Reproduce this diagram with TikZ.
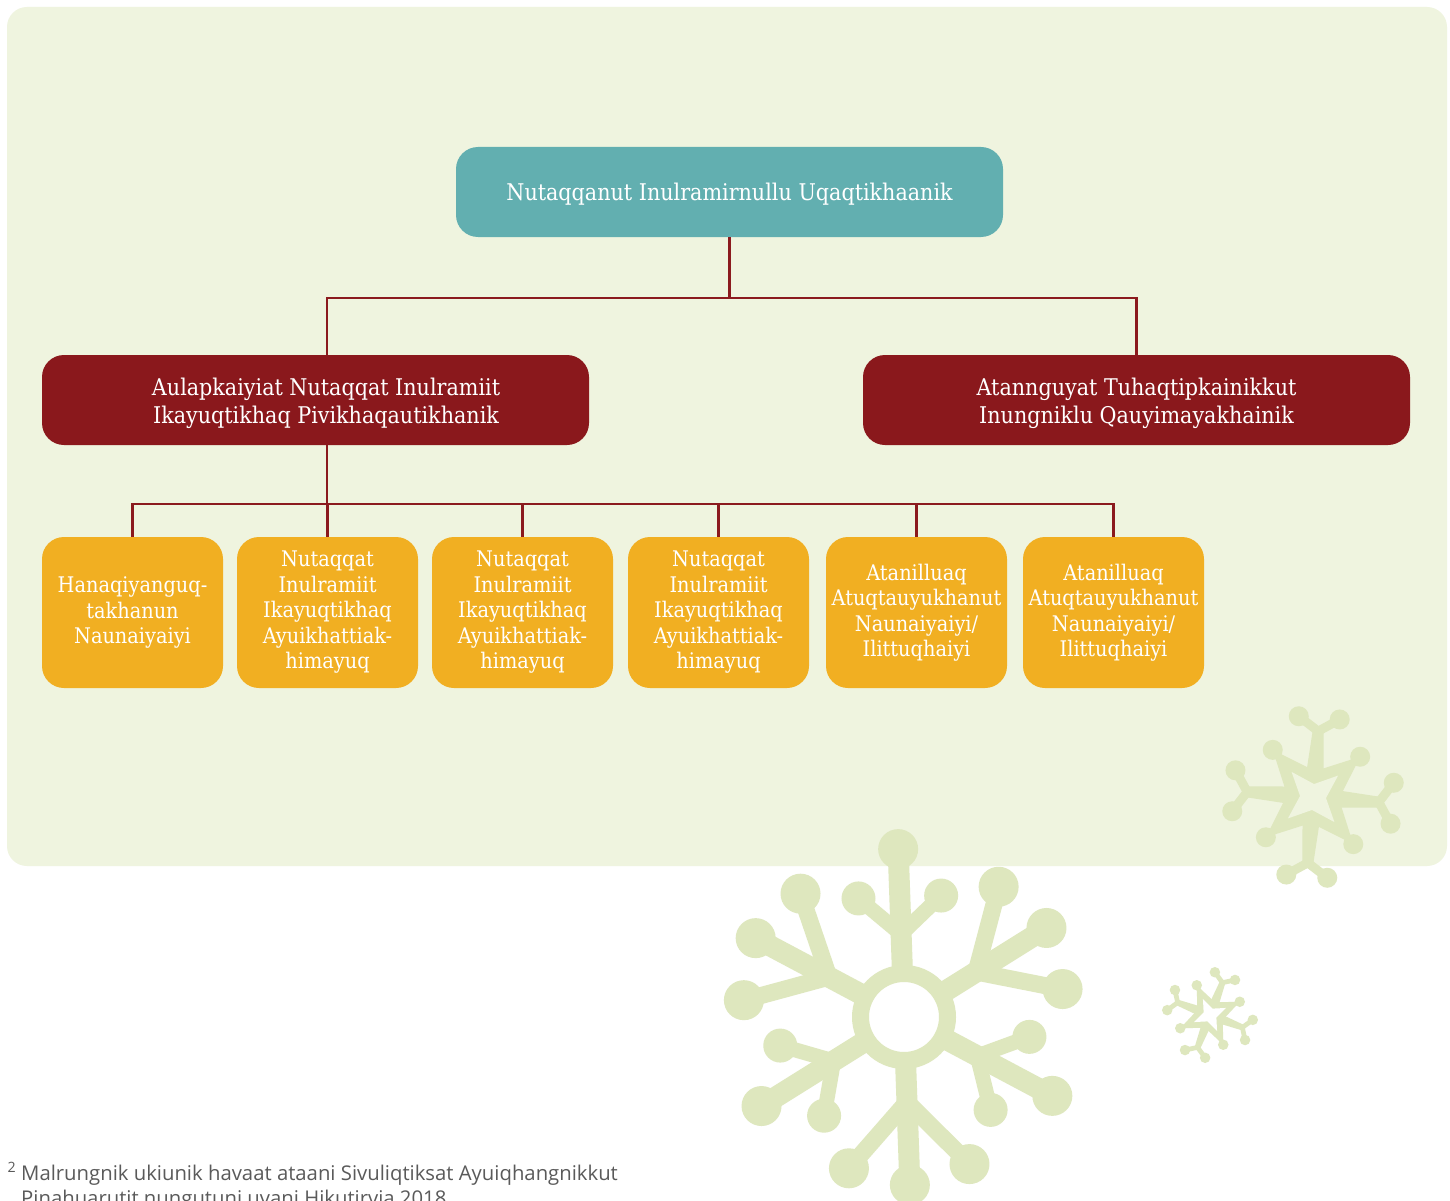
\documentclass[tikz,border=0pt]{standalone}
\usepackage{fontspec}
\newfontfamily\boxfont{DejaVu Serif Condensed}
\newfontfamily\notefont{Open Sans}
\definecolor{cPanel}{HTML}{EFF4DF}
\definecolor{cFlake}{HTML}{DEE7BE}
\definecolor{cTeal}{HTML}{62AFB0}
\definecolor{cRed}{HTML}{8A181C}
\definecolor{cOrange}{HTML}{F1AF22}
\definecolor{cLine}{HTML}{8B1A1E}
\definecolor{cNote}{HTML}{5A5A5A}
\newcommand{\lift}[1]{\rule{0pt}{#1}}
\newcommand{\txtnudge}{\hspace*{21pt}}
\newcommand{\starflake}[5]{%
 \begin{scope}[shift={(#1,#2)}]
  \fill[cFlake] ({#3-90}:{26*#4}) -- ({#3-45}:{62*#4}) -- ({#3}:{26*#4}) -- ({#3+45}:{62*#4}) -- ({#3+90}:{26*#4}) -- ({#3+135}:{62*#4}) -- ({#3+180}:{26*#4}) -- ({#3+225}:{62*#4}) -- cycle;
  \foreach \ang in {-90,0,90,180} {
    \fill[cFlake] ({#3+\ang-24}:{21.9*#4}) -- ({#3+\ang-4.8}:{66.2*#4}) -- ({#3+\ang+4.8}:{66.2*#4}) -- ({#3+\ang+24}:{21.9*#4}) -- cycle;
    \draw[cFlake, line width=9pt*#4, line join=round] ({#3+\ang-14.5}:{82*#4}) -- ({#3+\ang}:{66*#4}) -- ({#3+\ang+14.5}:{82*#4});
    \fill[cFlake] ({#3+\ang-14.5}:{82*#4}) circle[radius=10pt*#4];
    \fill[cFlake] ({#3+\ang+14.5}:{82*#4}) circle[radius=10pt*#4];
    \fill[cFlake] ({#3+\ang+45}:{62*#4}) circle[radius=10pt*#4];
  }
  \fill[#5] ({#3-90}:{13*#4}) -- ({#3-45}:{33*#4}) -- ({#3}:{13*#4}) -- ({#3+45}:{33*#4}) -- ({#3+90}:{13*#4}) -- ({#3+135}:{33*#4}) -- ({#3+180}:{13*#4}) -- ({#3+225}:{33*#4}) -- cycle;
 \end{scope}}
\begin{document}
\begin{tikzpicture}[x=1pt,y=-1pt,
  box/.style={rounded corners=22pt, inner sep=0pt, text=white, align=center,
    font=\boxfont\fontsize{23}{28}\selectfont},
  topbox/.style={box, fill=cTeal, minimum width=547pt, minimum height=90pt},
  midbox/.style={box, fill=cRed, minimum width=547pt, minimum height=90pt},
  leafbox/.style={box, fill=cOrange, minimum width=181pt, minimum height=151pt,
    font=\boxfont\fontsize{21.5}{25.5}\selectfont},
  conn/.style={draw=cLine, line width=2.6pt},
  fn/.style={inner sep=0pt, text=cNote, font=\notefont\fontsize{20.3}{25}\selectfont}
]
\useasboundingbox (0,0) rectangle (1450,1201);
\fill[white] (0,0) rectangle (1450,1201);
\fill[cPanel, rounded corners=20pt] (7,7) rectangle (1447,866);

% big snowflake
\begin{scope}[shift={(904,1017)}]
  \draw[cFlake, line width=17pt] (0,0) circle[radius=43.5pt];
  \foreach \a in {28,148,268} {
    \draw[cFlake, line width=21pt] (\a:43) -- (\a:168);
    \draw[cFlake, line width=15pt, line join=round] ({\a+19}:127) -- (\a:83) -- ({\a-19}:127);
    \fill[cFlake] (\a:168) circle[radius=20pt];
    \fill[cFlake] ({\a+19}:127) circle[radius=17pt];
    \fill[cFlake] ({\a-19}:127) circle[radius=17pt];
  }
  \foreach \a in {88,208,328} {
    \draw[cFlake, line width=21pt] (\a:43) -- (\a:168);
    \draw[cFlake, line width=17pt, line join=round] ({\a+22}:161) -- (\a:85) -- ({\a-22}:161);
    \fill[cFlake] (\a:168) circle[radius=20pt];
    \fill[cFlake] ({\a+22}:161) circle[radius=20pt];
    \fill[cFlake] ({\a-22}:161) circle[radius=20pt];
  }
\end{scope}
\starflake{1313}{797}{4.5}{1}{cPanel}
\starflake{1210}{1015}{21}{0.525}{white}

% boxes
\node[topbox] (top) at (729.5,192) {\lift{21.5pt}Nutaqqanut Inulramirnullu Uqaqtikhaanik};
\node[midbox] (lb) at (315.5,400) {\txtnudge\lift{24pt}Aulapkaiyiat Nutaqqat Inulramiit\\\txtnudge Ikayuqtikhaq Pivikhaqautikhanik};
\node[midbox] (rb) at (1136.5,400) {\lift{24pt}Atannguyat Tuhaqtipkainikkut\\Inungniklu Qauyimayakhainik};
\node[leafbox] (o1) at (132.5,612.5) {Hanaqiyanguq-\\takhanun\\Naunaiyaiyi};
\node[leafbox] (o2) at (327.5,612.5) {Nutaqqat\\Inulramiit\\Ikayuqtikhaq\\Ayuikhattiak-\\himayuq};
\node[leafbox] (o3) at (522.5,612.5) {Nutaqqat\\Inulramiit\\Ikayuqtikhaq\\Ayuikhattiak-\\himayuq};
\node[leafbox] (o4) at (718.5,612.5) {Nutaqqat\\Inulramiit\\Ikayuqtikhaq\\Ayuikhattiak-\\himayuq};
\node[leafbox] (o5) at (916.5,612.5) {Atanilluaq\\Atuqtauyukhanut\\Naunaiyaiyi/\\Ilittuqhaiyi};
\node[leafbox] (o6) at (1113.5,612.5) {Atanilluaq\\Atuqtauyukhanut\\Naunaiyaiyi/\\Ilittuqhaiyi};

% connectors
\coordinate (bus1) at (729.5,298);
\coordinate (bus2) at (327,504);
\draw[conn] (top.south) -- (bus1);
\draw[conn] ([xshift=11.5pt]lb.north) |- (rb.north |- bus1) -- (rb.north);
\draw[conn] ([xshift=11.5pt]lb.south) -- (bus2);
\draw[conn] (o1.north) |- (o6.north |- bus2) -- (o6.north);
\foreach \n in {o2,o3,o4,o5} \draw[conn] (\n.north) -- (\n.north |- bus2);

% footnote
\node[fn, anchor=base west] (fn1) at (21,1180) {\llap{\textsuperscript{2}\hspace{5pt}}Malrungnik ukiunik havaat ataani Sivuliqtiksat Ayuiqhangnikkut};
\node[fn, anchor=base west] (fn2) at (21,1205) {Pinahuarutit nungutuni uvani Hikutirvia 2018};
\end{tikzpicture}
\end{document}
